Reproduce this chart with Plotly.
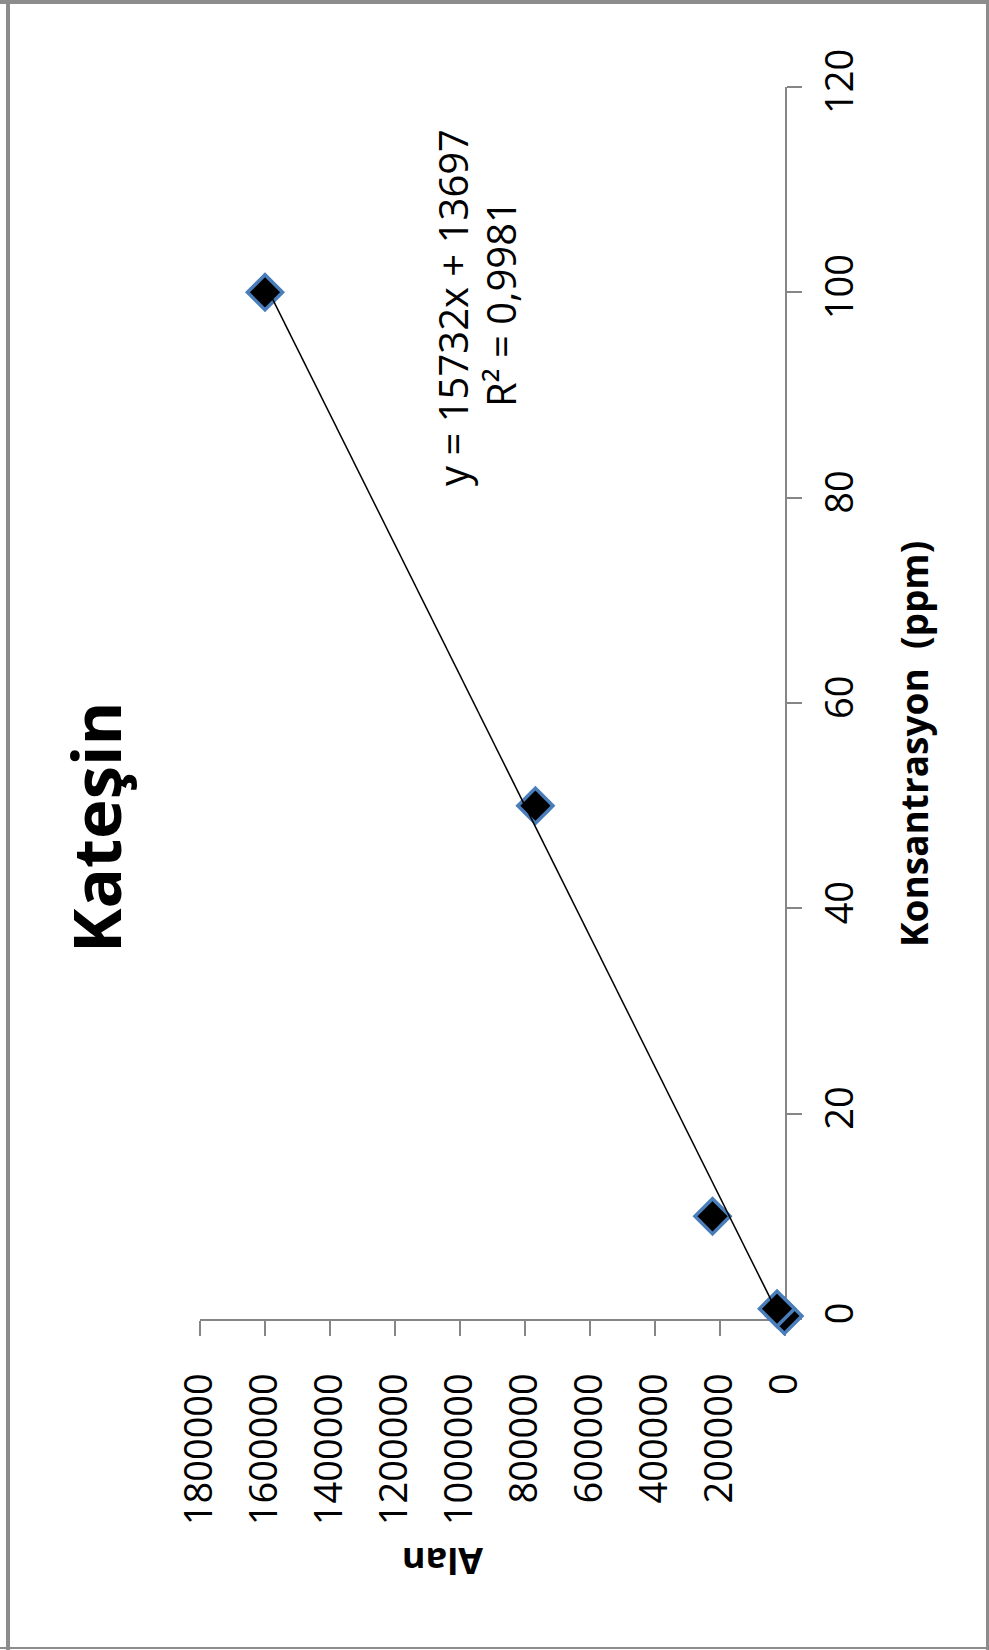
import plotly.graph_objects as go

# Calibration data for catechin
konsantrasyon = [0.3, 1, 10, 50, 100]          # ppm
alan = [2000, 24600, 223000, 768000, 1600000]   # peak area

# Linear fit as reported on the chart
egim = 15732
kesisim = 13697
r2_text = "R² = 0,9981"
denklem_text = "y = 15732x + 13697"

alan_ticks = [0, 200000, 400000, 600000, 800000, 1000000, 1200000,
              1400000, 1600000, 1800000]
konsantrasyon_ticks = [0, 20, 40, 60, 80, 100, 120]

W, H = 989, 1650
L, R, T, B = 200, 204, 87, 331
PW, PH = W - L - R, H - T - B


def px(x):
    return (x - L) / PW


def py(y):
    return (H - B - y) / PH


FONT = "Open Sans"
AXIS_GRAY = "#868686"

fit_x = [min(konsantrasyon), max(konsantrasyon)]
fit_y = [egim * c + kesisim for c in fit_x]

fig = go.Figure()
fig.add_trace(go.Scatter(
    x=alan, y=konsantrasyon, mode="markers", cliponaxis=False,
    marker=dict(symbol="diamond", size=27, color="black",
                line=dict(color="#4a7ebb", width=3.5)),
    showlegend=False, hoverinfo="skip"))
fig.add_trace(go.Scatter(
    x=fit_y, y=fit_x, mode="lines", cliponaxis=False,
    line=dict(color="black", width=1.5),
    showlegend=False, hoverinfo="skip"))

fig.update_layout(
    width=W, height=H, autosize=False,
    margin=dict(l=L, r=R, t=T, b=B, pad=0),
    paper_bgcolor="white", plot_bgcolor="white",
    font=dict(family=FONT, color="black"),
    xaxis=dict(range=[1800000, 0], tickvals=alan_ticks,
               ticktext=[str(v) for v in alan_ticks],
               tickangle=-90, tickfont=dict(size=38, family=FONT),
               ticklabelstandoff=22, layer="below traces",
               showgrid=False, zeroline=False, showline=True,
               linecolor=AXIS_GRAY, linewidth=2, ticks="outside",
               ticklen=15, tickcolor=AXIS_GRAY, tickwidth=2,
               automargin=False, fixedrange=True),
    yaxis=dict(range=[0, 120], tickvals=konsantrasyon_ticks,
               side="right", tickangle=-90,
               tickfont=dict(size=38, family=FONT),
               ticklabelstandoff=5, layer="below traces",
               showgrid=False, zeroline=False, showline=True,
               linecolor=AXIS_GRAY, linewidth=2, ticks="outside",
               ticklen=15, tickcolor=AXIS_GRAY, tickwidth=2,
               automargin=False, fixedrange=True),
)

annotations = [
    dict(text="<b>Kateşin</b>", x=px(95), y=py(828), textangle=-90,
         font=dict(size=67, family=FONT)),
    dict(text="<b>Konsantrasyon  (ppm)</b>", x=px(913), y=py(744),
         textangle=-90, font=dict(size=37, family=FONT)),
    dict(text="<b>Alan</b>", x=px(443), y=py(1562), textangle=180,
         font=dict(size=36, family=FONT)),
    dict(text=denklem_text, x=px(452), y=py(308), textangle=-90,
         font=dict(size=40, family=FONT)),
    dict(text=r2_text, x=px(500), y=py(304), textangle=-90,
         font=dict(size=40, family=FONT)),
]
for a in annotations:
    a.update(xref="paper", yref="paper", xanchor="center",
             yanchor="middle", showarrow=False)
fig.update_layout(annotations=annotations)

# Outer frame of the chart
BORDER = "#8c8c8c"
frame = [
    (6, 0, 10, H),
    (0, 0, W, 4),
    (W - 3, 0, W, H),
    (0, H - 3, W, H - 1),
]
fig.update_layout(shapes=[
    dict(type="rect", xref="paper", yref="paper",
         x0=px(x0), x1=px(x1), y0=py(y1), y1=py(y0),
         fillcolor=BORDER, line=dict(width=0), layer="above")
    for (x0, y0, x1, y1) in frame
])

fig.write_html("out.html")
